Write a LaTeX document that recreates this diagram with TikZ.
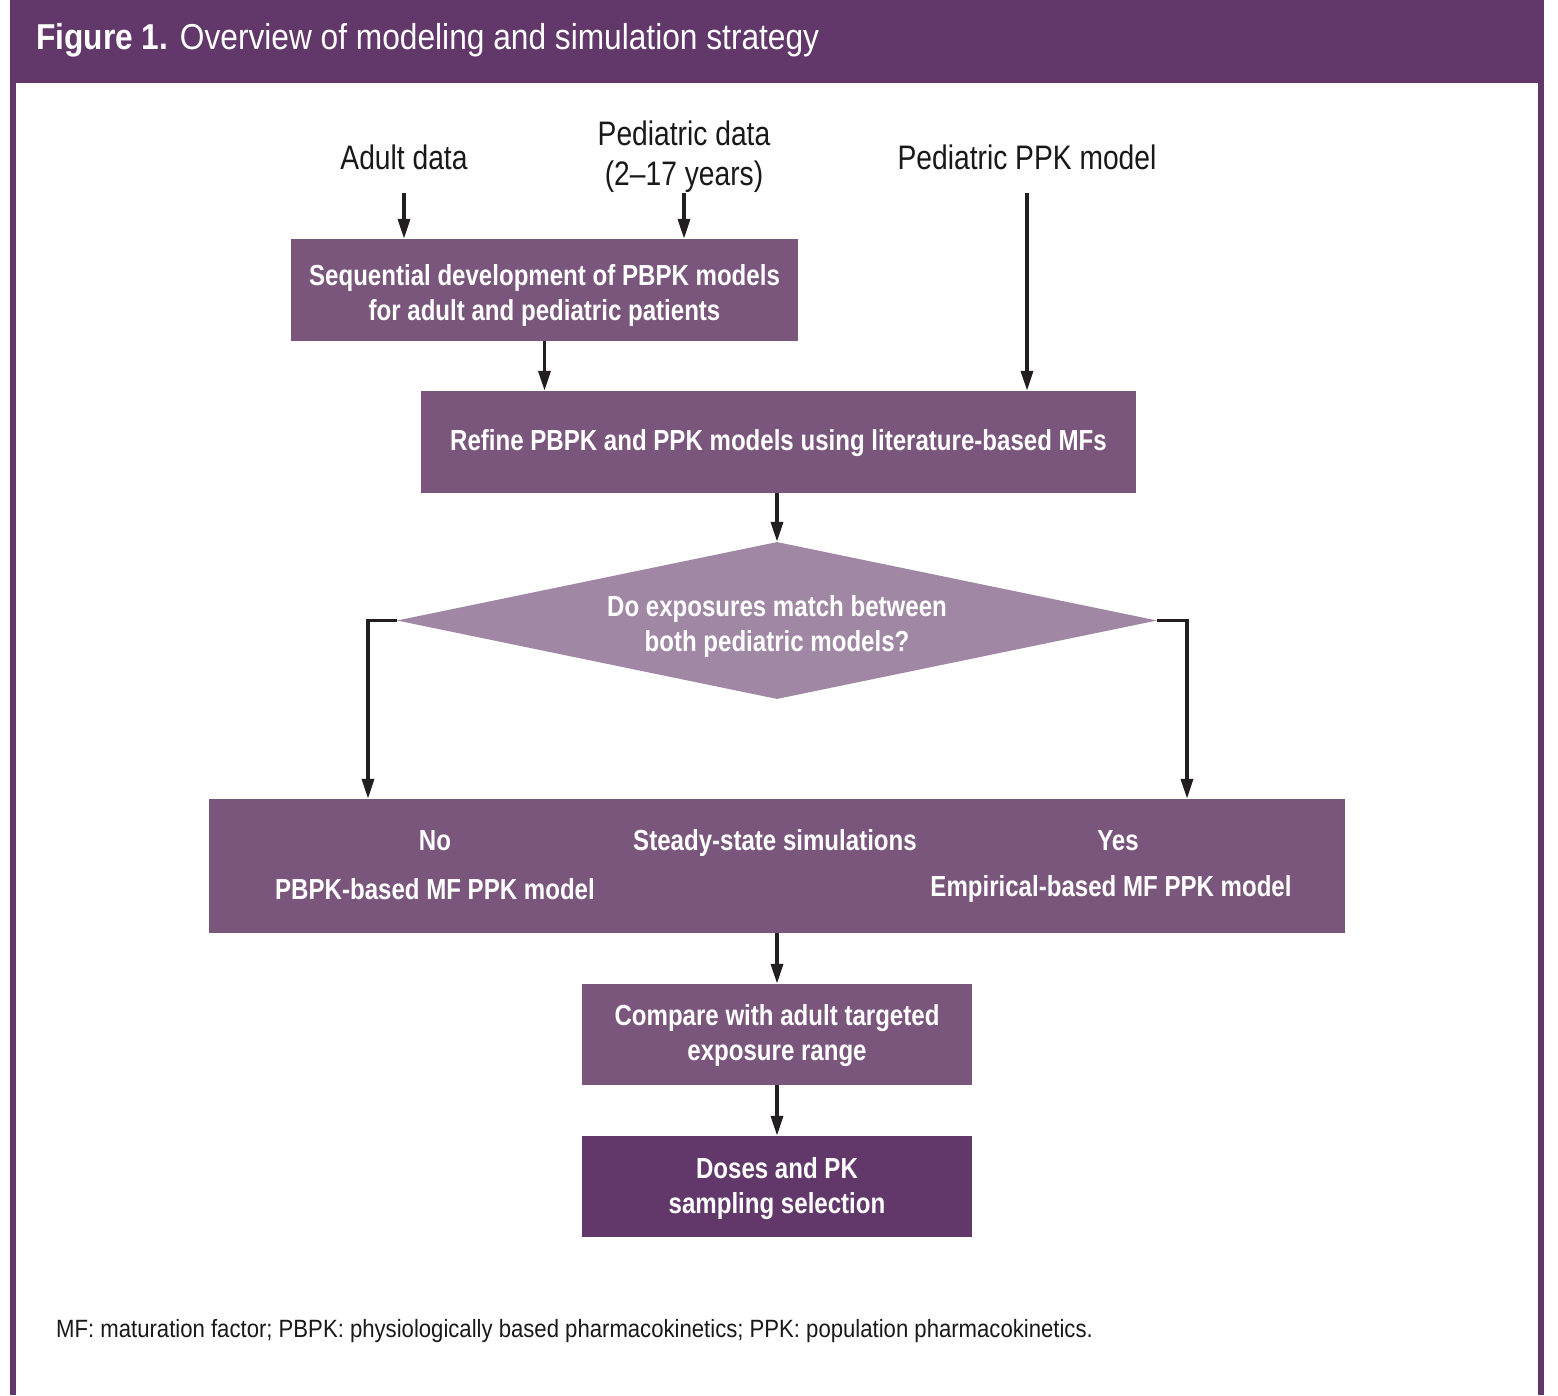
\documentclass[tikz,border=0pt]{standalone}
\usepackage{fontspec}
\setmainfont{Liberation Sans}[FakeStretch=0.83]
\newfontfamily\titlefont{Liberation Sans}[FakeStretch=0.88]
\newfontfamily\footfont{Liberation Sans}[FakeStretch=0.885]
\usetikzlibrary{arrows.meta,shapes.geometric}
\definecolor{hdr}{HTML}{62386A}
\definecolor{boxc}{HTML}{7A567D}
\definecolor{diac}{HTML}{A088A5}
\definecolor{arrc}{HTML}{231F20}
\tikzset{
  arr/.style={draw=arrc, line width=3.5pt, -{Triangle[width=12pt,length=20pt]}},
  flowbox/.style={fill=boxc, text=white, font=\bfseries\fontsize{29}{35}\selectfont, align=center, inner sep=0pt, rectangle},
  boxtext/.style={text=white, font=\bfseries\fontsize{29}{35}\selectfont, align=center, inner sep=0pt},
  inlabel/.style={text=white, font=\bfseries\fontsize{29}{35}\selectfont, inner sep=0pt, anchor=base},
  toplabel/.style={text=black!90, font=\fontsize{34}{40}\selectfont, align=center, inner sep=0pt},
}
\begin{document}
\begin{tikzpicture}[x=1pt,y=-1pt]
\useasboundingbox (0,0) rectangle (1558,1395);
% frame
\fill[hdr] (10,0) rectangle (1544,1395);
\fill[white] (16,83) rectangle (1538,1395);
\node[anchor=base west, inner sep=0pt, text=white, font=\titlefont\fontsize{36}{40}\selectfont] (title) at (36,49) {\textbf{Figure 1.} Overview of modeling and simulation strategy};
% top labels
\node[toplabel] (adult) at (404,157) {Adult data};
\node[toplabel] (ped) at (684,157) {Pediatric data\\(2--17 years)};
\node[toplabel] (ppk) at (1027,157) {Pediatric PPK model};
% boxes
\node[flowbox, minimum width=507pt, minimum height=102pt] (b1) at (544.5,290) {};
\node[boxtext] (b1t) at (544.5,295) {Sequential development of PBPK models\\for adult and pediatric patients};
\node[flowbox, minimum width=715pt, minimum height=102pt] (b2) at (778.5,442) {};
\node[boxtext] (b2t) at (778.5,443) {Refine PBPK and PPK models using literature-based MFs};
\node[diamond, fill=diac, inner sep=0pt, aspect=4.84, minimum width=760pt, minimum height=157pt] (dia) at (777,620.5) {};
\node[boxtext] (diat) at (777,626) {Do exposures match between\\both pediatric models?};
\node[flowbox, minimum width=1136pt, minimum height=134pt] (b3) at (777,866) {};
\node[inlabel] (no) at (435,850) {No};
\node[inlabel] (nomod) at (435,899) {PBPK-based MF PPK model};
\node[inlabel] (ss) at (775,850) {Steady-state simulations};
\node[inlabel] (yes) at (1118,850) {Yes};
\node[inlabel] (yesmod) at (1111,896) {Empirical-based MF PPK model};
\node[flowbox, minimum width=390pt, minimum height=101pt] (b4) at (777,1034.5) {};
\node[boxtext] (b4t) at (777,1036) {Compare with adult targeted\\exposure range};
\node[flowbox, fill=hdr, minimum width=390pt, minimum height=101pt] (b5) at (777,1186.5) {};
\node[boxtext] (b5t) at (777,1188.5) {Doses and PK\\sampling selection};
% footer
\node[anchor=base west, inner sep=0pt, text=black!90, font=\footfont\fontsize{25}{30}\selectfont] (foot) at (56,1337) {MF: maturation factor; PBPK: physiologically based pharmacokinetics; PPK: population pharmacokinetics.};
% connectors
\coordinate (a1) at (404,193);
\coordinate (a2) at (684,193);
\coordinate (a3) at (1027,193);
\coordinate (lx) at (368,700);
\coordinate (rx) at (1187,700);
\draw[arr] (a1) -- (a1 |- b1.north);
\draw[arr] (a2) -- (a2 |- b1.north);
\draw[arr] (a3) -- (a3 |- b2.north);
\draw[arr] (b1.south) -- (b1.south |- b2.north);
\draw[arr] (dia.north |- b2.south) -- (dia.north);
\draw[arr] (dia.west) -| (lx |- b3.north);
\draw[arr] (dia.east) -| (rx |- b3.north);
\draw[arr] (b3.south) -- (b4.north);
\draw[arr] (b4.south) -- (b5.north);
\end{tikzpicture}
\end{document}
